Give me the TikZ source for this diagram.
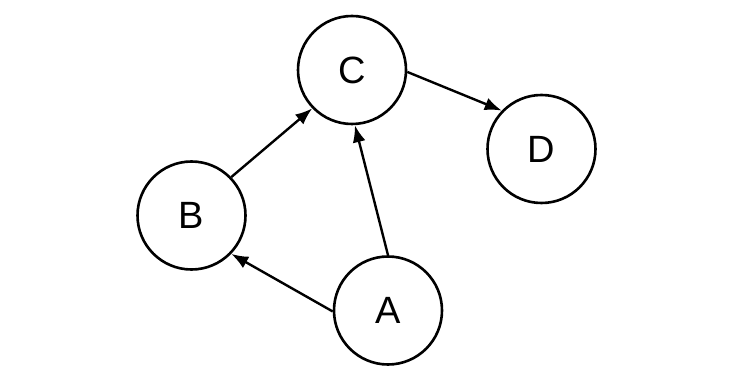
\documentclass[tikz,border=0pt]{standalone}
\usepackage{fontspec}
\setmainfont{Liberation Sans}
\usetikzlibrary{arrows.meta}
\begin{document}
\begin{tikzpicture}[x=1pt,y=-1pt,
  vertex/.style={circle,draw=black,line width=2.6pt,minimum size=108pt,inner sep=0pt,font=\fontsize{38}{38}\selectfont},
  link/.style={line width=2.4pt,-{Latex[length=17pt,width=13pt]}}]
\useasboundingbox (0,0) rectangle (731,387);
\node[vertex] (C) at (352,70) {C};
\node[vertex] (D) at (541.5,149) {D};
\node[vertex] (B) at (191.5,215.5) {B};
\node[vertex] (A) at (388,310.5) {A};
\draw[link] (B.44) -- (C.224);
\draw[link] (A.90) -- (C.-87);
\draw[link] (A.181) -- (B.-44);
\draw[link] (C.-2) -- (D.136);
\end{tikzpicture}
\end{document}
